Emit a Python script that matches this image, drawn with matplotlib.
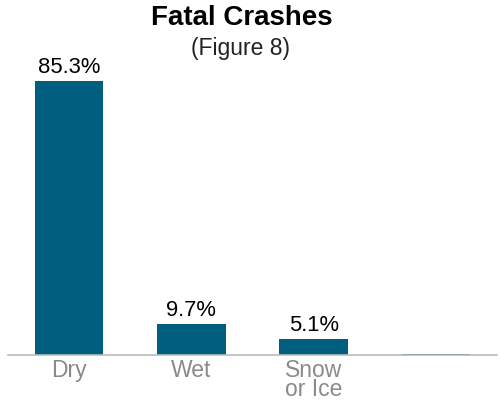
import matplotlib
matplotlib.use('Agg')
import matplotlib.pyplot as plt

categories = ['Dry', 'Wet', 'Snow\nor Ice', '']
values = [85.3, 9.7, 5.1, 0.3]
value_labels = ['85.3%', '9.7%', '5.1%', '']

bar_color = '#005f7f'
label_grey = '#8a8a8a'

plt.rcParams['font.family'] = ['Liberation Sans', 'DejaVu Sans']

fig = plt.figure(figsize=(5.0, 4.01), dpi=100)
ax = fig.add_axes([0.016, 0.1147, 0.978, 0.7357])

x = range(len(categories))
ax.bar(x, values, width=0.56, color=bar_color)
ax.set_xlim(-0.5, 3.5)
ax.set_ylim(0, 91.9)

for xi, v, lab in zip(x, values, value_labels):
    if lab:
        ax.text(xi, v + 0.9, lab, ha='center', va='bottom', fontsize=15.8, color='black')

ax.set_xticks(list(x))
ax.set_xticklabels(categories, fontsize=16.5, color=label_grey, linespacing=0.78, va='top')
ax.tick_params(axis='x', length=0, pad=3)
ax.set_yticks([])
for side in ('top', 'right', 'left'):
    ax.spines[side].set_visible(False)
ax.spines['bottom'].set_color('#bbbbbb')
ax.spines['bottom'].set_linewidth(1.2)

fig.text(0.484, 0.955, 'Fatal Crashes', ha='center', va='center', fontsize=20, fontweight='bold')
fig.text(0.481, 0.880, '(Figure 8)', ha='center', va='center', fontsize=16.5, color='#222222')

fig.savefig('out.png', dpi=100)
